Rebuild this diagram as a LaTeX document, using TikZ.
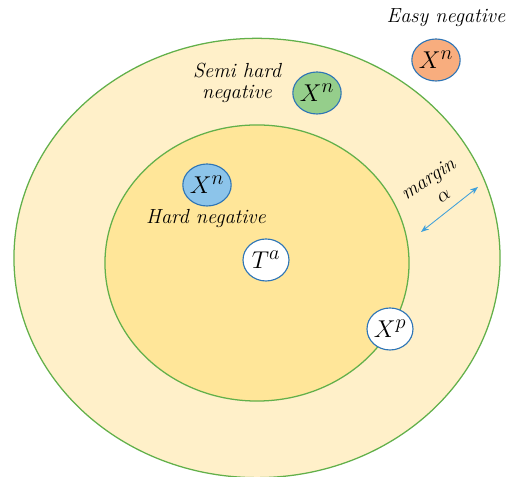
\documentclass[tikz,border=0pt]{standalone}
\usepackage{fontspec}
\usepackage{tikz}
\usetikzlibrary{arrows.meta,shapes.geometric}

\definecolor{ringfill}{HTML}{FFF0C9}
\definecolor{corefill}{HTML}{FFE699}
\definecolor{ringline}{HTML}{62B04A}
\definecolor{dotline}{HTML}{2E75B6}
\definecolor{easyfill}{HTML}{F8AD7E}
\definecolor{semifill}{HTML}{95CE8B}
\definecolor{hardfill}{HTML}{8CC4EA}
\definecolor{marginarrow}{HTML}{3FA0DA}

\begin{document}
\begin{tikzpicture}[x=0.025cm,y=-0.025cm]
  \tikzset{sample/.style={ellipse,draw=dotline,line width=0.8pt,minimum width=1.15cm,minimum height=1.05cm,inner sep=0pt,font=\fontsize{19}{22}\selectfont},
    tag/.style={align=center,inner sep=1pt,font=\fontsize{14.5}{15}\selectfont\itshape}}
  \useasboundingbox (0,0) rectangle (509,477);
  \clip (0,0) rectangle (509,477);
  % regions
  \node[ellipse,draw=ringline,fill=ringfill,line width=0.9pt,minimum width=12.15cm,minimum height=10.98cm] (outer) at (257,258) {};
  \node[ellipse,draw=ringline,fill=corefill,line width=0.9pt,minimum width=7.6cm,minimum height=6.9cm] (inner) at (257,263) {};
  % samples
  \node[sample,fill=easyfill] (easy) at (436,60) {$X^n$};
  \node[sample,fill=semifill] (semi) at (317,93) {$X^n$};
  \node[sample,fill=hardfill] (hard) at (207,185) {$X^n$};
  \node[sample,fill=white] (anchor) at (266,260) {$T^a$};
  \node[sample,fill=white] (pos) at (390,329) {$X^p$};
  % labels
  \node[tag] (easylbl) at (446,18) {Easy negative};
  \node[tag] (semilbl) at (237,83) {Semi hard\\negative};
  \node[tag] (hardlbl) at (206,219) {Hard negative};
  \node[tag,rotate=33] (marginlbl) at (429,180) {margin};
  \node[tag,rotate=33] (alphalbl) at (444,196) {$\alpha$};
  % margin arrow
  \coordinate (ma) at (421,232);
  \coordinate (mb) at (478,187);
  \draw[{Stealth}-{Stealth},marginarrow,line width=0.6pt] (ma) -- (mb);
\end{tikzpicture}
\end{document}
